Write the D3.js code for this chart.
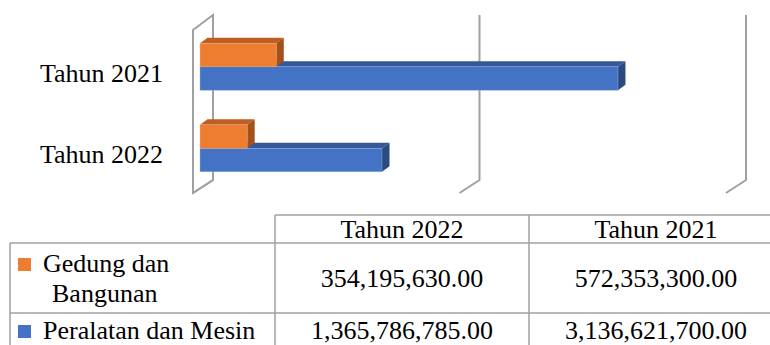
<!DOCTYPE html>
<html>
<head>
<meta charset="utf-8">
<script src="https://cdn.jsdelivr.net/npm/d3@7"></script>
<style>
  html, body { margin: 0; padding: 0; background: #fff; }
  svg { display: block; }
</style>
</head>
<body>
<svg id="chart" width="770" height="345"></svg>
<script>
// Categories (top to bottom in the chart) and table column order
const categories = ["Tahun 2021", "Tahun 2022"];
const tableColumns = ["Tahun 2022", "Tahun 2021"];

// Series values keyed by year
const seriesNames = ["Gedung dan Bangunan", "Peralatan dan Mesin"];
const gedungDanBangunan = { "Tahun 2022": 354195630.00, "Tahun 2021": 572353300.00 };
const peralatanDanMesin = { "Tahun 2022": 1365786785.00, "Tahun 2021": 3136621700.00 };
const seriesValues = [gedungDanBangunan, peralatanDanMesin];

// Axis ticks (gridlines only, no labels shown)
const tickValues = [0, 2000000000, 4000000000];

const FONT = "Liberation Serif";

const faceColors = [
  { front: "#ED7D31", top: "#BE5E22", side: "#A4501B", edge: "#F4B183" },
  { front: "#4472C4", top: "#355998", side: "#2B4A80", edge: "#9DB5E0" }
];

const svg = d3.select("#chart");

// ---- 3D bar chart ----
const x = d3.scaleLinear().domain([0, 4000000000]).range([200, 733]);
const y = d3.scaleBand().domain(categories).range([26, 189]).paddingInner(0).paddingOuter(0);
const barH = 23.5;
const depth = { dx: 7.5, dy: -5.5 };         // bar depth offset
const wallBack = { dx: 13, top: 15, bottom: 180 };
const wallFront = { dx: -7, top: 30, bottom: 193 };

const grid = svg.append("g").attr("fill", "none").attr("stroke", "#A0A0A0").attr("stroke-width", 2);

// Left side wall
grid.append("path")
  .attr("d", `M${x(0) + wallBack.dx},${wallBack.top} L${x(0) + wallFront.dx},${wallFront.top} ` +
             `L${x(0) + wallFront.dx},${wallFront.bottom} L${x(0) + wallBack.dx},${wallBack.bottom} Z`);

// Back-wall gridlines with floor edges
tickValues.forEach(v => {
  grid.append("path")
    .attr("d", `M${x(v) + wallBack.dx},${wallBack.top} L${x(v) + wallBack.dx},${wallBack.bottom} ` +
               `L${x(v) + wallFront.dx},${wallFront.bottom}`);
});

// Bars: lower series first so the upper bar's front covers its top face
const bars = svg.append("g");
categories.forEach(cat => {
  const y0 = y(cat) + y.bandwidth() / 2 - barH;
  [1, 0].forEach(si => {
    const v = seriesValues[si][cat];
    const c = faceColors[si];
    const x0 = x(0), x1 = x(v);
    const top = y0 + si * barH, bot = top + barH;
    const g = bars.append("g");
    // top face
    g.append("path")
      .attr("d", `M${x0},${top} L${x0 + depth.dx},${top + depth.dy} L${x1 + depth.dx},${top + depth.dy} L${x1},${top} Z`)
      .attr("fill", c.top);
    // side face
    g.append("path")
      .attr("d", `M${x1},${top} L${x1 + depth.dx},${top + depth.dy} L${x1 + depth.dx},${bot + depth.dy} L${x1},${bot} Z`)
      .attr("fill", c.side);
    // front face
    g.append("rect")
      .attr("x", x0).attr("y", top)
      .attr("width", x1 - x0).attr("height", barH)
      .attr("fill", c.front)
      .attr("stroke", c.edge).attr("stroke-width", 0.6).attr("stroke-opacity", 0.7);
  });
});

// Category labels
svg.append("g").selectAll("text").data(categories).join("text")
  .attr("x", 163)
  .attr("y", d => y(d) + y.bandwidth() / 2 + 15)
  .attr("text-anchor", "end")
  .style("font-family", FONT)
  .attr("font-size", 26)
  .text(d => d);

// ---- Data table ----
const fmt = d3.format(",.2f");
const colX = [10, 275, 529, 783];
const rowY = [215, 243, 313, 383];
const tbl = svg.append("g");
const line = tbl.append("g").attr("stroke", "#A0A0A0").attr("stroke-width", 1.5);

line.append("line").attr("x1", colX[1]).attr("x2", colX[3]).attr("y1", rowY[0]).attr("y2", rowY[0]);
line.append("line").attr("x1", colX[0]).attr("x2", colX[3]).attr("y1", rowY[1]).attr("y2", rowY[1]);
line.append("line").attr("x1", colX[0]).attr("x2", colX[3]).attr("y1", rowY[2]).attr("y2", rowY[2]);
line.append("line").attr("x1", colX[0]).attr("x2", colX[0]).attr("y1", rowY[1]).attr("y2", rowY[3]);
[1, 2, 3].forEach(i => line.append("line").attr("x1", colX[i]).attr("x2", colX[i]).attr("y1", rowY[0]).attr("y2", rowY[3]));

const addText = (xPos, yPos, str, anchor) =>
  tbl.append("text")
    .attr("x", xPos).attr("y", yPos)
    .attr("text-anchor", anchor || "start")
    .style("font-family", FONT)
    .attr("font-size", 26)
    .text(str);

// Header
tableColumns.forEach((col, i) => addText((colX[i + 1] + colX[i + 2]) / 2, 238, col, "middle"));

// Legend cells
const legendSquareY = [258, 325];
seriesNames.forEach((name, si) => {
  tbl.append("rect")
    .attr("x", 18).attr("y", legendSquareY[si])
    .attr("width", 13).attr("height", 13)
    .attr("fill", faceColors[si].front);
});
addText(43, 272, "Gedung dan");
addText(52, 302, "Bangunan");
addText(43, 339, seriesNames[1]);

// Values
const valueBaselines = [287, 339];
seriesValues.forEach((vals, si) => {
  tableColumns.forEach((col, ci) => {
    addText((colX[ci + 1] + colX[ci + 2]) / 2, valueBaselines[si], fmt(vals[col]), "middle");
  });
});
</script>
</body>
</html>
